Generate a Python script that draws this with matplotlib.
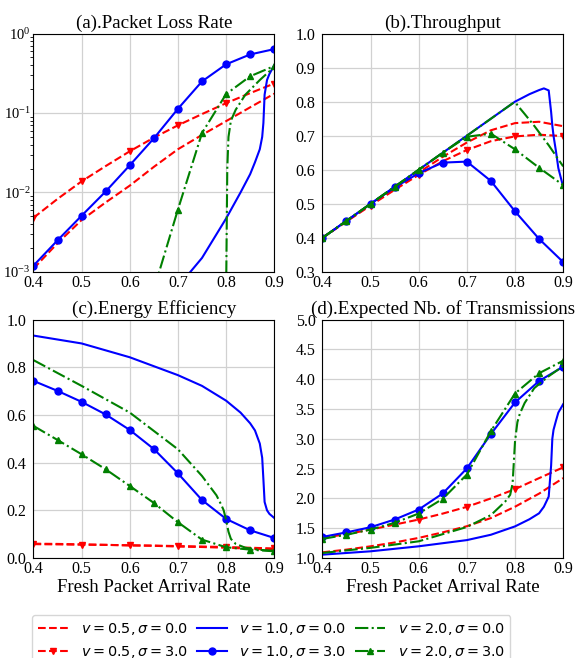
import numpy as np
import matplotlib
matplotlib.use("Agg")
import matplotlib.pyplot as plt
from matplotlib.font_manager import FontProperties

plt.rcParams['font.family'] = 'serif'
plt.rcParams['font.serif'] = ['Liberation Serif', 'DejaVu Serif']
plt.rcParams['mathtext.fontset'] = 'stix'

nan = np.nan

# x grids
x_step = [0.4, 0.45, 0.5, 0.55, 0.6, 0.65, 0.7, 0.75, 0.8, 0.85, 0.9]
x_b0 = [0.4, 0.5, 0.6, 0.7, 0.75, 0.8, 0.83, 0.85, 0.86, 0.87, 0.875, 0.8775, 0.88, 0.885, 0.89, 0.9]
x_g0 = [0.4, 0.5, 0.6, 0.7, 0.75, 0.78, 0.79, 0.795, 0.8, 0.8025, 0.805, 0.81, 0.82, 0.84, 0.87, 0.9]

# (a) packet loss rate
loss_r0 = [0.0011, 0.0023, 0.0045, 0.0075, 0.0122, 0.021, 0.035, 0.053, 0.079, 0.118, 0.175]
loss_r3 = [0.0048, 0.0083, 0.0138, 0.0215, 0.033, 0.049, 0.070, 0.097, 0.133, 0.178, 0.235]
loss_b0 = [nan, nan, nan, 6.5e-4, 1.5e-3, 4.7e-3, 0.010, 0.017, 0.024, 0.035, 0.05, 0.075, 0.17, 0.26, 0.31, 0.40]
loss_b3 = [0.0012, 0.0025, 0.0051, 0.0103, 0.022, 0.048, 0.113, 0.25, 0.41, 0.546, 0.637]
loss_g0 = [nan, nan, nan, nan, nan, nan, nan, nan, 5e-4, 0.02, 0.05, 0.08, 0.11, 0.17, 0.26, 0.38]
loss_g3 = [nan, nan, nan, nan, nan, 6e-4, 0.0061, 0.056, 0.173, 0.29, 0.39]

# (b) throughput
thr_r0 = [0.40, 0.449, 0.497, 0.545, 0.592, 0.638, 0.68, 0.716, 0.737, 0.741, 0.728]
thr_r3 = [0.40, 0.448, 0.495, 0.541, 0.585, 0.625, 0.658, 0.684, 0.698, 0.703, 0.699]
thr_b0 = [0.4, 0.5, 0.6, 0.7, 0.75, 0.8, 0.822, 0.834, 0.839, 0.833, 0.77, 0.73, 0.70, 0.655, 0.605, 0.55]
thr_b3 = [0.40, 0.45, 0.50, 0.548, 0.59, 0.621, 0.624, 0.567, 0.478, 0.397, 0.329]
thr_g0 = [0.4, 0.5, 0.6, 0.7, 0.75, 0.78, 0.79, 0.795, 0.798, 0.795, 0.79, 0.781, 0.764, 0.729, 0.672, 0.61]
thr_g3 = [0.40, 0.45, 0.50, 0.55, 0.60, 0.65, 0.697, 0.706, 0.66, 0.606, 0.555]

# (c) energy efficiency
ee_r0 = [0.060, 0.059, 0.057, 0.055, 0.053, 0.051, 0.048, 0.046, 0.043, 0.039, 0.035]
ee_r3 = [0.058, 0.057, 0.056, 0.055, 0.053, 0.052, 0.050, 0.048, 0.046, 0.043, 0.040]
ee_b0 = [0.933, 0.90, 0.842, 0.767, 0.722, 0.66, 0.61, 0.565, 0.535, 0.48, 0.42, 0.33, 0.235, 0.20, 0.185, 0.168]
ee_b3 = [0.743, 0.701, 0.655, 0.602, 0.537, 0.457, 0.355, 0.243, 0.164, 0.116, 0.084]
ee_g0 = [0.83, 0.722, 0.61, 0.456, 0.344, 0.263, 0.223, 0.20, 0.16, 0.135, 0.11, 0.08, 0.059, 0.043, 0.034, 0.03]
ee_g3 = [0.554, 0.495, 0.435, 0.372, 0.302, 0.231, 0.15, 0.077, 0.045, 0.035, 0.028]

# (d) expected number of transmissions
tx_r0 = [1.095, 1.14, 1.196, 1.26, 1.337, 1.43, 1.533, 1.67, 1.86, 2.08, 2.34]
tx_r3 = [1.337, 1.40, 1.477, 1.56, 1.645, 1.745, 1.858, 2.0, 2.155, 2.34, 2.52]
tx_b0 = [1.056, 1.112, 1.196, 1.30, 1.39, 1.53, 1.65, 1.75, 1.86, 2.03, 2.55, 3.0, 3.15, 3.3, 3.44, 3.58]
tx_b3 = [1.353, 1.43, 1.516, 1.645, 1.813, 2.083, 2.503, 3.08, 3.61, 3.97, 4.21]
tx_g0 = [1.084, 1.17, 1.28, 1.52, 1.72, 1.95, 2.06, 2.25, 2.95, 3.12, 3.28, 3.42, 3.6, 3.85, 4.05, 4.22]
tx_g3 = [1.32, 1.39, 1.477, 1.59, 1.746, 1.993, 2.40, 3.13, 3.76, 4.10, 4.31]

labels = [r'$v = 0.5, \sigma = 0.0$', r'$v = 0.5, \sigma = 3.0$',
          r'$v = 1.0, \sigma = 0.0$', r'$v = 1.0, \sigma = 3.0$',
          r'$v = 2.0, \sigma = 0.0$', r'$v = 2.0, \sigma = 3.0$']

titles = ['(a).Packet Loss Rate', '(b).Throughput',
          '(c).Energy Efficiency', '(d).Expected Nb. of Transmissions']

panels = [
    (loss_r0, loss_r3, loss_b0, loss_b3, loss_g0, loss_g3),
    (thr_r0, thr_r3, thr_b0, thr_b3, thr_g0, thr_g3),
    (ee_r0, ee_r3, ee_b0, ee_b3, ee_g0, ee_g3),
    (tx_r0, tx_r3, tx_b0, tx_b3, tx_g0, tx_g3),
]

fig, axes = plt.subplots(2, 2, figsize=(5.77, 6.58), dpi=100)
plt.subplots_adjust(left=0.058, right=0.976, top=0.949, bottom=0.152, wspace=0.2, hspace=0.2)

lw = 1.5
ms = 5
for i, ax in enumerate(axes.flat):
    r0, r3, b0, b3, g0, g3 = panels[i]
    ax.plot(x_step, r0, 'r--', lw=lw, label=labels[0])
    ax.plot(x_step, r3, 'r--', lw=lw, marker='v', ms=ms, markevery=2, label=labels[1])
    ax.plot(x_b0, b0, 'b-', lw=lw, label=labels[2])
    ax.plot(x_step, b3, 'b-', lw=lw, marker='o', ms=ms, label=labels[3])
    ax.plot(x_g0, g0, 'g-.', lw=lw, label=labels[4])
    ax.plot(x_step, g3, 'g-.', lw=lw, marker='^', ms=ms, label=labels[5])
    ax.set_xlim(0.4, 0.9)
    ax.set_xticks([0.4, 0.5, 0.6, 0.7, 0.8, 0.9])
    ax.grid(True, color='0.82', lw=0.9)
    ax.set_title(titles[i], fontsize=13.7, pad=4)
    ax.tick_params(which='major', length=0, labelsize=11.5)
    ax.tick_params(axis='x', pad=2.5)
    ax.tick_params(axis='y', pad=5)

axes[0, 0].set_yscale('log')
axes[0, 0].set_ylim(1e-3, 1)
axes[0, 0].tick_params(axis='y', which='major', pad=2, labelsize=10.5)
axes[0, 0].tick_params(axis='y', which='minor', length=2, width=0.6)
axes[0, 1].set_ylim(0.3, 1.0)
axes[0, 1].set_yticks(np.arange(0.3, 1.01, 0.1))
axes[1, 0].set_ylim(0.0, 1.0)
axes[1, 1].set_ylim(1.0, 5.0)
axes[1, 1].set_yticks(np.arange(1.0, 5.01, 0.5))
axes[1, 0].set_xlabel('Fresh Packet Arrival Rate', fontsize=13.5, labelpad=1)
axes[1, 1].set_xlabel('Fresh Packet Arrival Rate', fontsize=13.5, labelpad=1)

handles, labs = axes[0, 0].get_legend_handles_labels()
fig.legend(handles, labs, loc='upper center', bbox_to_anchor=(0.4705, 0.0653), ncol=3,
           prop=FontProperties(family='DejaVu Sans', size=10.4, math_fontfamily='dejavusans'),
           handlelength=2.1, columnspacing=0.6, handletextpad=0.85, borderaxespad=0)

fig.savefig('out.png', dpi=100)
